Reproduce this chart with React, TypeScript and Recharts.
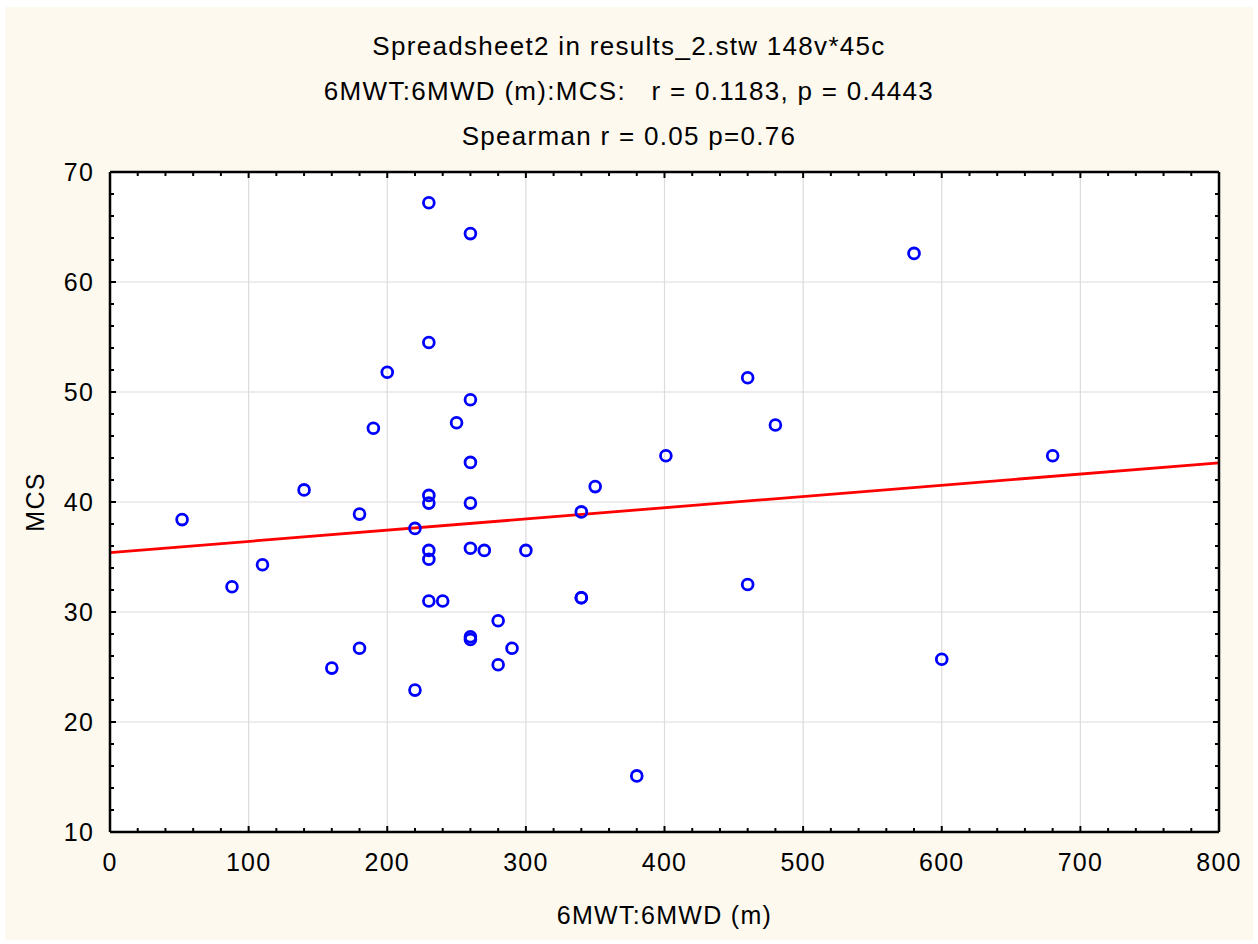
import React from 'react';
import { ScatterChart, Scatter, XAxis, YAxis, CartesianGrid, ReferenceLine } from 'recharts';

// 6MWT: 6MWD (m)
const mwd = [52, 88, 110, 140, 160, 180, 180, 190, 200, 220, 220, 230, 230, 230, 230, 230, 230, 230, 240, 250, 260, 260, 260, 260, 260, 260, 260, 270, 280, 280, 290, 300, 340, 340, 340, 350, 380, 401, 460, 460, 480, 580, 600, 680];
// MCS
const mcs = [38.4, 32.3, 34.3, 41.1, 24.9, 38.9, 26.7, 46.7, 51.8, 37.6, 22.9, 67.2, 54.5, 40.6, 39.9, 35.6, 34.8, 31.0, 31.0, 47.2, 64.4, 49.3, 43.6, 39.9, 35.8, 27.75, 27.5, 35.6, 29.2, 25.2, 26.7, 35.6, 39.1, 31.3, 31.3, 41.4, 15.1, 44.2, 51.3, 32.5, 47.0, 62.6, 25.7, 44.2];

const xTicks = [0, 100, 200, 300, 400, 500, 600, 700, 800];
const yTicks = [10, 20, 30, 40, 50, 60, 70];
const xMinorTicks = Array.from({ length: 41 }, (_, i) => i * 20);
const yMinorTicks = Array.from({ length: 31 }, (_, i) => 10 + i * 2);

// fitted regression line (as drawn in the reference)
const fitIntercept = 35.4;
const fitSlope = 0.0102;

const titleLines = [
  'Spreadsheet2 in results_2.stw 148v*45c',
  '6MWT:6MWD (m):MCS:\u00a0\u00a0\u00a0r = 0.1183, p = 0.4443',
  'Spearman r = 0.05 p=0.76',
];
const xTitle = '6MWT:6MWD (m)';
const yTitle = 'MCS';

const points = mwd.map((x, i) => ({ x, y: mcs[i] }));

const W = 1258;
const H = 944;
const PLOT_LEFT = 110;
const PLOT_TOP = 172;
const PLOT_RIGHT = 1219;
const PLOT_BOTTOM = 832;
const PLOT_W = PLOT_RIGHT - PLOT_LEFT;
const PLOT_H = PLOT_BOTTOM - PLOT_TOP;
const FONT = '"Liberation Sans", Arial, sans-serif';
const TICK_FS = 25;

const XTick = (props: any) => {
  const { x, y, payload } = props;
  return (
    <text x={x} y={y + 30} textAnchor="middle" dominantBaseline="central" fontSize={TICK_FS} letterSpacing={1.2} fontFamily={FONT} fill="#000">
      {payload.value}
    </text>
  );
};

const YTick = (props: any) => {
  const { x, y, payload } = props;
  return (
    <text x={x - 16} y={y} textAnchor="end" dominantBaseline="central" fontSize={TICK_FS} letterSpacing={1.2} fontFamily={FONT} fill="#000">
      {payload.value}
    </text>
  );
};

const XMinorTick = (props: any) => {
  const { x, payload } = props;
  const len = payload.value % 100 === 0 ? 6 : 4;
  return (
    <g>
      <line x1={x} x2={x} y1={PLOT_TOP} y2={PLOT_TOP + len} stroke="#000" strokeWidth={2} />
      <line x1={x} x2={x} y1={PLOT_BOTTOM} y2={PLOT_BOTTOM - len} stroke="#000" strokeWidth={2} />
    </g>
  );
};

const YMinorTick = (props: any) => {
  const { y, payload } = props;
  const len = payload.value % 10 === 0 ? 6 : 4;
  return (
    <g>
      <line x1={PLOT_RIGHT} x2={PLOT_RIGHT - len} y1={y} y2={y} stroke="#000" strokeWidth={2} />
      <line x1={PLOT_LEFT} x2={PLOT_LEFT + len} y1={y} y2={y} stroke="#000" strokeWidth={2} />
    </g>
  );
};

const Ring = (props: any) => {
  const { cx, cy } = props;
  return <circle cx={cx} cy={cy} r={5.4} fill="none" stroke="#0000ff" strokeWidth={2.8} />;
};

const Nothing = () => <g />;

const axisLine = { stroke: '#000', strokeWidth: 2.5 };

export default function App() {
  return (
    <div style={{ position: 'absolute', left: 0, top: 0, width: W, height: H, background: '#ffffff', overflow: 'hidden' }}>
      <div style={{ position: 'absolute', left: 5, top: 7, width: 1248, height: 933, background: '#fdf9ef' }} />
      {titleLines.map((t, i) => (
        <div
          key={i}
          style={{
            position: 'absolute',
            left: 0,
            width: W,
            top: 46 + i * 45 - 15,
            height: 30,
            lineHeight: '30px',
            textAlign: 'center',
            fontFamily: FONT,
            fontSize: 26,
            letterSpacing: 1.3,
            color: '#000',
            whiteSpace: 'pre',
          }}
        >
          {t}
        </div>
      ))}
      <div style={{ position: 'absolute', left: 0, top: 0 }}>
        <ScatterChart width={W} height={H} margin={{ top: PLOT_TOP - 1, right: W - PLOT_RIGHT - 1, bottom: 0, left: 0 }}>
          <CartesianGrid xAxisId="x" yAxisId="y" fill="#ffffff" fillOpacity={1} stroke="#dcdcdc" strokeWidth={1.2} />
          <XAxis
            xAxisId="x"
            dataKey="x"
            type="number"
            domain={[0, 800]}
            ticks={xTicks}
            interval={0}
            orientation="bottom"
            height={H - PLOT_BOTTOM}
            tickSize={0}
            tickMargin={0}
            axisLine={axisLine}
            tick={<XTick />}
            allowDataOverflow
            label={{
              content: () => (
                <text
                  x={PLOT_LEFT + PLOT_W / 2}
                  y={915}
                  textAnchor="middle"
                  dominantBaseline="central"
                  fontSize={TICK_FS}
                  letterSpacing={1.3}
                  fontFamily={FONT}
                  fill="#000"
                >
                  {xTitle}
                </text>
              ),
            }}
          />
          <XAxis
            xAxisId="xt"
            dataKey="x"
            type="number"
            domain={[0, 800]}
            ticks={xMinorTicks}
            interval={0}
            orientation="top"
            height={1}
            tickSize={0}
            tickMargin={0}
            axisLine={axisLine}
            tick={<XMinorTick />}
            allowDataOverflow
          />
          <YAxis
            yAxisId="y"
            dataKey="y"
            type="number"
            domain={[10, 70]}
            ticks={yTicks}
            interval={0}
            width={PLOT_LEFT}
            tickSize={0}
            tickMargin={0}
            axisLine={axisLine}
            tick={<YTick />}
            allowDataOverflow
            label={{
              content: () => (
                <text
                  x={35}
                  y={PLOT_TOP + PLOT_H / 2}
                  textAnchor="middle"
                  dominantBaseline="central"
                  fontSize={TICK_FS}
                  letterSpacing={1.3}
                  fontFamily={FONT}
                  fill="#000"
                  transform={`rotate(-90 35 ${PLOT_TOP + PLOT_H / 2})`}
                >
                  {yTitle}
                </text>
              ),
            }}
          />
          <YAxis
            yAxisId="yr"
            dataKey="y"
            type="number"
            orientation="right"
            domain={[10, 70]}
            ticks={yMinorTicks}
            interval={0}
            width={1}
            tickSize={0}
            tickMargin={0}
            axisLine={axisLine}
            tick={<YMinorTick />}
            allowDataOverflow
          />
          <ReferenceLine
            xAxisId="x"
            yAxisId="y"
            segment={[
              { x: 0, y: fitIntercept },
              { x: 800, y: fitIntercept + fitSlope * 800 },
            ]}
            stroke="#ff0000"
            strokeWidth={2.8}
          />
          <Scatter xAxisId="xt" yAxisId="yr" data={points} shape={<Nothing />} isAnimationActive={false} />
          <Scatter xAxisId="x" yAxisId="y" data={points} shape={<Ring />} isAnimationActive={false} />
        </ScatterChart>
      </div>
    </div>
  );
}
